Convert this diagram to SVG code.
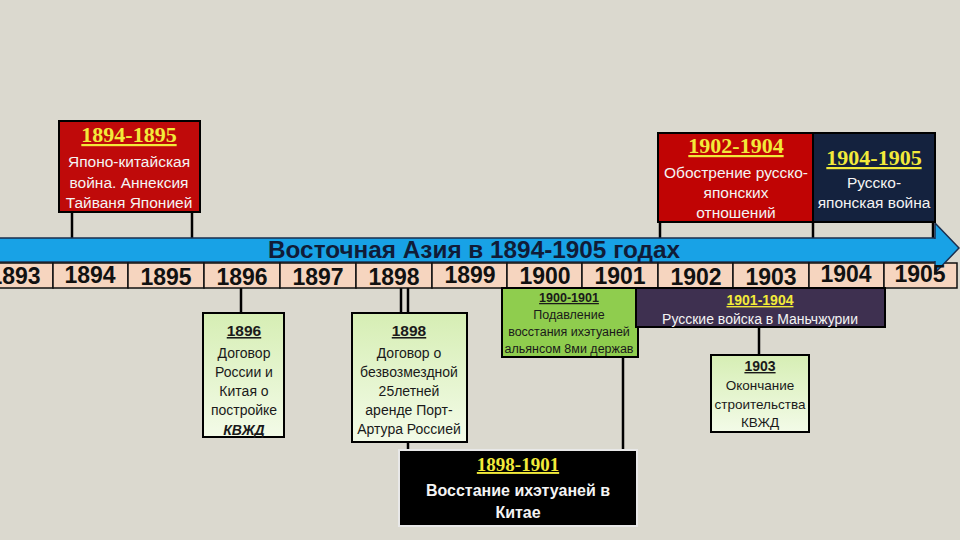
<svg xmlns="http://www.w3.org/2000/svg" width="960" height="540" viewBox="0 0 960 540">
<defs>
<linearGradient id="lg" x1="0" y1="0" x2="0" y2="1">
<stop offset="0" stop-color="#d6eeb4"/>
<stop offset="1" stop-color="#f3fbe8"/>
</linearGradient>
<style>
.bg{fill:#dbd9cf}
.ln{stroke:#000;stroke-width:2.5;fill:none}
.cell{fill:#f6d5bf;stroke:#111;stroke-width:1.5}
.yr{font-family:"Liberation Sans",Arial,sans-serif;font-weight:bold;font-size:23px;fill:#111;text-anchor:middle}
.hy{font-family:"Liberation Serif","Times New Roman",serif;font-weight:bold;fill:#f2ea3a;text-anchor:middle;text-decoration:underline}
.wt{font-family:"Liberation Sans",Arial,sans-serif;fill:#f4f4f4;text-anchor:middle}
.dk{font-family:"Liberation Sans",Arial,sans-serif;fill:#1a1a1a;text-anchor:middle}
.box{stroke:#000;stroke-width:2}
</style>
</defs>
<rect class="bg" x="0" y="0" width="960" height="540"/>

<g id="connectors">
<line class="ln" x1="72" y1="212" x2="72" y2="238"/>
<line class="ln" x1="192" y1="212" x2="192" y2="238"/>
<line class="ln" x1="660" y1="222" x2="660" y2="238"/>
<line class="ln" x1="813" y1="222" x2="813" y2="238"/>
<line class="ln" x1="933" y1="222" x2="933" y2="238"/>
<line class="ln" x1="241" y1="288" x2="241" y2="313"/>
<line class="ln" x1="401" y1="288" x2="401" y2="313"/>
<line class="ln" x1="408" y1="288" x2="408" y2="313"/>
<line class="ln" x1="408" y1="442" x2="408" y2="450"/>
<line class="ln" x1="623" y1="357" x2="623" y2="450"/>
<line class="ln" x1="759" y1="327" x2="759" y2="355"/>
</g>

<g id="timeline">
<rect x="-2" y="238" width="938" height="24" fill="#18a2e6" stroke="#1b2f4f" stroke-width="1.5"/>
<g id="years">
<rect class="cell" x="-23" y="263" width="76" height="25"/>
<rect class="cell" x="53" y="263" width="75" height="25"/>
<rect class="cell" x="128" y="263" width="76" height="25"/>
<rect class="cell" x="204" y="263" width="76" height="25"/>
<rect class="cell" x="280" y="263" width="76" height="25"/>
<rect class="cell" x="356" y="263" width="76" height="25"/>
<rect class="cell" x="432" y="263" width="75" height="25"/>
<rect class="cell" x="507" y="263" width="75" height="25"/>
<rect class="cell" x="582" y="263" width="76" height="25"/>
<rect class="cell" x="658" y="263" width="75" height="25"/>
<rect class="cell" x="733" y="263" width="76" height="25"/>
<rect class="cell" x="809" y="263" width="75" height="25"/>
<rect class="cell" x="884" y="263" width="73" height="25"/>
</g>
<polygon points="935,223 959,248 935,273" fill="#18a2e6" stroke="#1b2f4f" stroke-width="1.5"/>
<rect x="934" y="239" width="3" height="22" fill="#18a2e6"/>
<text x="268" y="258" font-family="Liberation Sans,Arial,sans-serif" font-weight="bold" font-size="24" fill="#101c38" textLength="412" lengthAdjust="spacingAndGlyphs">Восточная Азия в 1894-1905 годах</text>
<g class="yr">
<text x="15" y="284">1893</text>
<text x="90" y="283">1894</text>
<text x="166" y="285">1895</text>
<text x="242" y="285">1896</text>
<text x="318" y="285">1897</text>
<text x="394" y="285">1898</text>
<text x="470" y="283">1899</text>
<text x="545" y="284">1900</text>
<text x="620" y="284">1901</text>
<text x="696" y="285">1902</text>
<text x="771" y="285">1903</text>
<text x="846" y="282">1904</text>
<text x="920" y="282">1905</text>
</g>
</g>

<g id="n1894">
<rect class="box" x="59" y="121" width="141" height="91" fill="#bf0a0a"/>
<text class="hy" x="129" y="142" font-size="22">1894-1895</text>
<text class="wt" x="129" y="167" font-size="15.5">Японо-китайская</text>
<text class="wt" x="129" y="188" font-size="15.5">война. Аннексия</text>
<text class="wt" x="129" y="208" font-size="15.5">Тайваня Японией</text>
</g>

<g id="n1902">
<rect class="box" x="658" y="133" width="155" height="89" fill="#c00404"/>
<text class="hy" x="736" y="153" font-size="22">1902-1904</text>
<text class="wt" x="736" y="178" font-size="15.5">Обострение русско-</text>
<text class="wt" x="736" y="198" font-size="15.5">японских</text>
<text class="wt" x="736" y="218" font-size="15.5">отношений</text>
</g>

<g id="n1904">
<rect class="box" x="813" y="133" width="122" height="89" fill="#14223e"/>
<text class="hy" x="874" y="165" font-size="22">1904-1905</text>
<text class="wt" x="874" y="188" font-size="15.5">Русско-</text>
<text class="wt" x="874" y="208" font-size="15.5">японская война</text>
</g>

<g id="n1896">
<rect class="box" x="203" y="313" width="81" height="124" fill="url(#lg)"/>
<text class="dk" x="244" y="336" font-size="15.5" font-weight="bold" text-decoration="underline">1896</text>
<text class="dk" x="244" y="358" font-size="14">Договор</text>
<text class="dk" x="244" y="377" font-size="14">России и</text>
<text class="dk" x="244" y="396" font-size="14">Китая о</text>
<text class="dk" x="244" y="415" font-size="14">постройке</text>
<text class="dk" x="244" y="435" font-size="14" font-weight="bold" font-style="italic">КВЖД</text>
</g>

<g id="n1898">
<rect class="box" x="352" y="313" width="115" height="129" fill="url(#lg)"/>
<text class="dk" x="409" y="336" font-size="15.5" font-weight="bold" text-decoration="underline">1898</text>
<text class="dk" x="409" y="358" font-size="14">Договор о</text>
<text class="dk" x="409" y="377" font-size="14">безвозмездной</text>
<text class="dk" x="409" y="396" font-size="14">25летней</text>
<text class="dk" x="409" y="415" font-size="14">аренде Порт-</text>
<text class="dk" x="409" y="434" font-size="14">Артура Россией</text>
</g>

<g id="n1900">
<rect class="box" x="502" y="288" width="136" height="69" fill="#8fcd4e"/>
<text class="dk" x="569" y="302" font-size="12.5" font-weight="bold" text-decoration="underline">1900-1901</text>
<text class="dk" x="569" y="319" font-size="12.5">Подавление</text>
<text class="dk" x="569" y="336" font-size="12.5">восстания ихэтуаней</text>
<text class="dk" x="569" y="353" font-size="12.5">альянсом 8ми держав</text>
</g>

<g id="n1901">
<rect class="box" x="636" y="288" width="249" height="39" fill="#3e3050"/>
<text x="760" y="305" font-family="Liberation Sans,Arial,sans-serif" font-size="14" font-weight="bold" fill="#f2ea3a" text-anchor="middle" text-decoration="underline">1901-1904</text>
<text class="wt" x="760" y="324" font-size="14">Русские войска в Маньчжурии</text>
</g>

<g id="n1903">
<rect class="box" x="711" y="355" width="98" height="77" fill="url(#lg)"/>
<text class="dk" x="760" y="371" font-size="14" font-weight="bold" text-decoration="underline">1903</text>
<text class="dk" x="760" y="390" font-size="13.5">Окончание</text>
<text class="dk" x="760" y="409" font-size="13.5">строительства</text>
<text class="dk" x="760" y="427" font-size="13.5">КВЖД</text>
</g>

<g id="n1898b">
<rect x="399" y="450" width="238" height="76" fill="#000" stroke="#e8e8e8" stroke-width="2"/>
<text class="hy" x="518" y="471" font-size="19">1898-1901</text>
<text class="wt" x="518" y="496" font-size="16" font-weight="bold">Восстание ихэтуаней в</text>
<text class="wt" x="518" y="518" font-size="16" font-weight="bold">Китае</text>
</g>
</svg>
